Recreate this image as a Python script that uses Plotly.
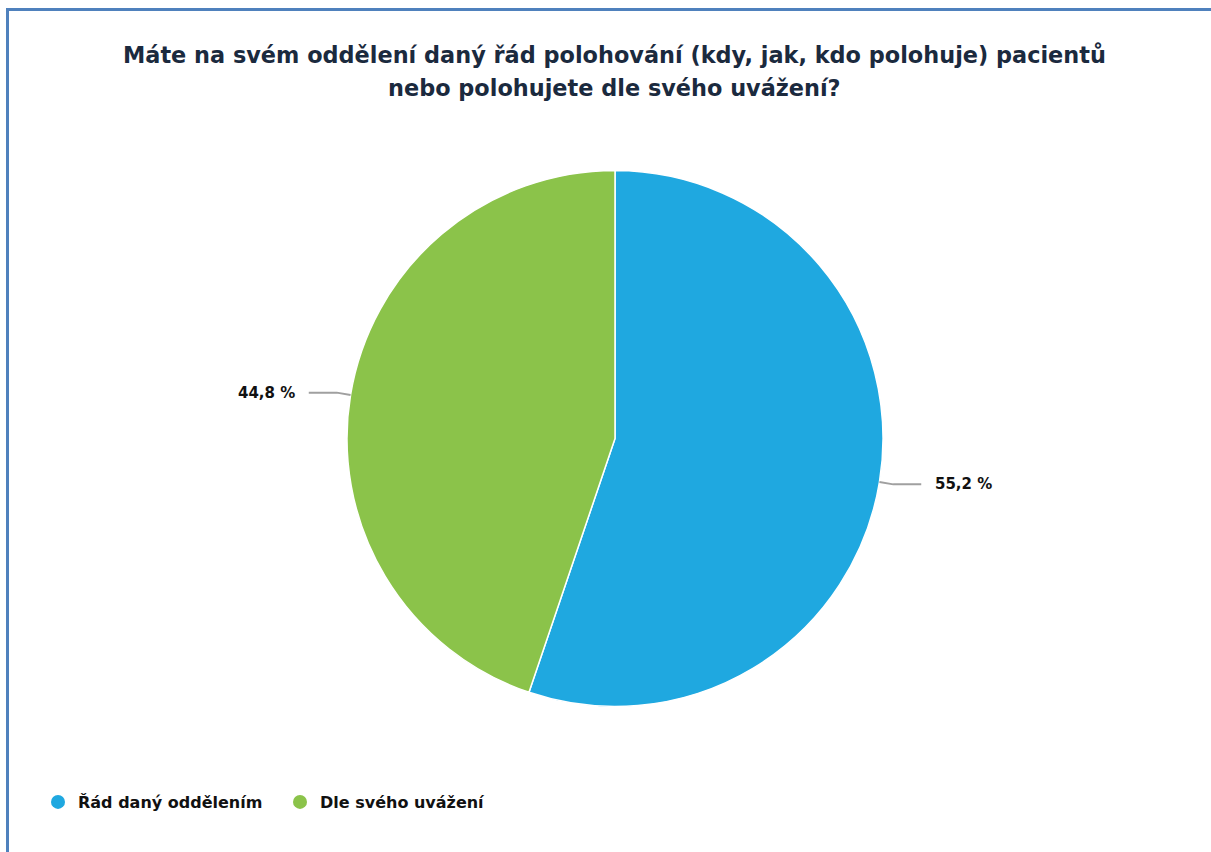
import math
import plotly.graph_objects as go

# Survey answers and their shares (%)
categories = ["Řád daný oddělením", "Dle svého uvážení"]
shares = [55.2, 44.8]
colors = ["#1fa8e0", "#8bc34a"]

title_lines = [
    "Máte na svém oddělení daný řád polohování (kdy, jak, kdo polohuje) pacientů",
    "nebo polohujete dle svého uvážení?",
]

W, H = 1211, 852
cx, cy, r = 615, 438.5, 268  # pie centre and radius in pixels


def px(x):
    return x / W


def py(y):
    return 1 - y / H


fig = go.Figure()

fig.add_trace(go.Pie(
    labels=categories,
    values=shares,
    marker=dict(colors=colors, line=dict(color="white", width=1.5)),
    sort=False,
    direction="clockwise",
    rotation=0,
    textinfo="none",
    hoverinfo="label+percent",
    showlegend=False,
    domain=dict(x=[px(cx - r), px(cx + r)], y=[py(cy + r), py(cy - r)]),
))

# Legend entries with round markers
for name, col in zip(categories, colors):
    fig.add_trace(go.Scatter(
        x=[None], y=[None], mode="markers", name=f"<b>{name}</b>",
        marker=dict(symbol="circle", size=14, color=col),
    ))

# Outside value labels with leader lines
shapes = []
annotations = []
total = sum(shares)
start = 0.0
for v in shares:
    mid = (start + v / 2) / total * 2 * math.pi
    start += v
    dx, dy = math.sin(mid), -math.cos(mid)
    x0, y0 = cx + r * dx, cy + r * dy
    x1, y1 = cx + (r + 14) * dx, cy + (r + 14) * dy
    side = 1 if dx >= 0 else -1
    x2, y2 = x1 + side * 28, y1
    shapes.append(dict(
        type="path", xref="paper", yref="paper",
        path=f"M {px(x0)},{py(y0)} L {px(x1)},{py(y1)} L {px(x2)},{py(y2)}",
        line=dict(color="#a0a0a0", width=2),
    ))
    label = f"{v:.1f}".replace(".", ",") + " %"
    annotations.append(dict(
        x=px(x2 + side * 12), y=py(y2), xref="paper", yref="paper",
        text=f"<b>{label}</b>", showarrow=False,
        xanchor="left" if side > 0 else "right", yanchor="middle",
        font=dict(family="DejaVu Sans", size=15, color="#111111"),
    ))

# Frame edges (top and left)
shapes.append(dict(type="line", xref="paper", yref="paper",
                   x0=px(6), x1=1, y0=py(9.5), y1=py(9.5),
                   line=dict(color="#4f81bd", width=3)))
shapes.append(dict(type="line", xref="paper", yref="paper",
                   x0=px(7.5), x1=px(7.5), y0=py(8), y1=0,
                   line=dict(color="#4f81bd", width=3)))

# Two-line title
for line, ypix in zip(title_lines, [55, 88]):
    annotations.append(dict(
        x=px(cx), y=py(ypix), xref="paper", yref="paper",
        text=f"<b>{line}</b>", showarrow=False,
        xanchor="center", yanchor="middle",
        font=dict(family="DejaVu Sans", size=22.4, color="#1b2a3e"),
    ))

fig.update_layout(
    width=W, height=H,
    margin=dict(l=0, r=0, t=0, b=0),
    paper_bgcolor="white", plot_bgcolor="white",
    xaxis=dict(visible=False), yaxis=dict(visible=False),
    shapes=shapes,
    annotations=annotations,
    legend=dict(
        orientation="h", x=px(38), y=py(802), xanchor="left", yanchor="middle",
        font=dict(family="DejaVu Sans", size=16, color="#111111"),
        itemwidth=30, tracegroupgap=0,
        entrywidth=197, entrywidthmode="pixels",
    ),
)

fig.write_html("out.html")
